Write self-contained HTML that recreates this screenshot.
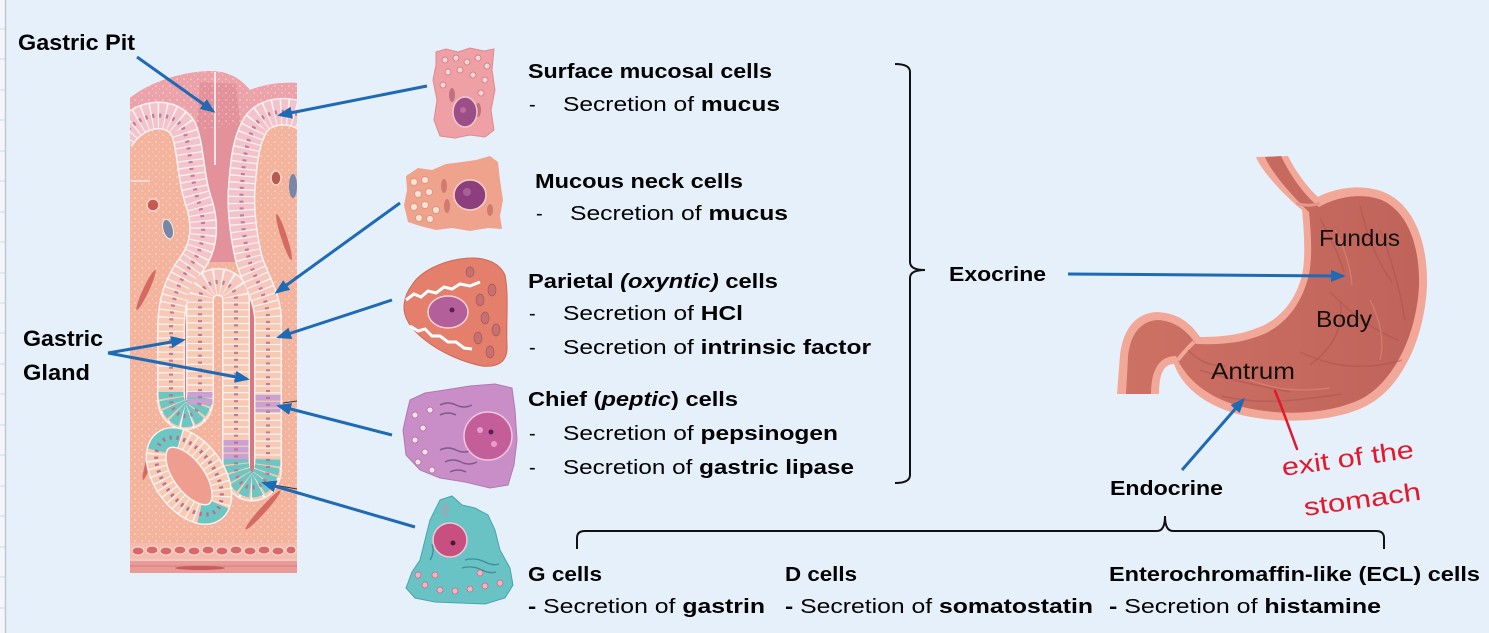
<!DOCTYPE html>
<html><head><meta charset="utf-8"><style>
html,body{margin:0;padding:0;background:#e6f0fa;}
svg{display:block;}
text{font-family:"Liberation Sans",sans-serif;}
</style></head><body>
<svg width="1489" height="633" viewBox="0 0 1489 633" xmlns="http://www.w3.org/2000/svg">
<defs>
<marker id="ah" markerWidth="15" markerHeight="12" refX="12" refY="6" orient="auto" markerUnits="userSpaceOnUse"><path d="M0,0 L15,6 L0,12 Z" fill="#1e6ab4"/></marker>
<linearGradient id="cg" gradientUnits="userSpaceOnUse" x1="0" y1="230" x2="0" y2="320"><stop offset="0" stop-color="#f3c3cc"/><stop offset="1" stop-color="#f6cab3"/></linearGradient>
<linearGradient id="sg" x1="0" y1="0" x2="1" y2="0"><stop offset="0" stop-color="#cd7165"/><stop offset="1" stop-color="#c0635a"/></linearGradient>
<pattern id="dots" width="7" height="7" patternUnits="userSpaceOnUse"><circle cx="2" cy="2" r="0.8" fill="#fff" opacity="0.55"/><circle cx="5.5" cy="5" r="0.6" fill="#fff" opacity="0.4"/></pattern>
<clipPath id="gclip"><path d="M130,98 C150,82 180,72 210,71 C228,71 240,78 250,90 C265,84 282,82 297,83 L297,575 L130,575 Z"/></clipPath>
</defs>
<rect width="1489" height="633" fill="#e6f0fa"/>
<!-- left strip -->
<rect x="0" y="0" width="5" height="633" fill="#f3f7fc"/>
<g stroke="#c4dcf0" stroke-width="1">
<line x1="0" y1="29" x2="5" y2="29"/><line x1="0" y1="59" x2="5" y2="59"/><line x1="0" y1="90" x2="5" y2="90"/><line x1="0" y1="120" x2="5" y2="120"/><line x1="0" y1="151" x2="5" y2="151"/><line x1="0" y1="181" x2="5" y2="181"/><line x1="0" y1="212" x2="5" y2="212"/><line x1="0" y1="242" x2="5" y2="242"/><line x1="0" y1="273" x2="5" y2="273"/><line x1="0" y1="303" x2="5" y2="303"/><line x1="0" y1="333" x2="5" y2="333"/><line x1="0" y1="364" x2="5" y2="364"/><line x1="0" y1="394" x2="5" y2="394"/><line x1="0" y1="425" x2="5" y2="425"/><line x1="0" y1="455" x2="5" y2="455"/><line x1="0" y1="486" x2="5" y2="486"/><line x1="0" y1="516" x2="5" y2="516"/><line x1="0" y1="547" x2="5" y2="547"/><line x1="0" y1="577" x2="5" y2="577"/><line x1="0" y1="608" x2="5" y2="608"/>
</g>
<line x1="5.5" y1="0" x2="5.5" y2="633" stroke="#c3c7cc" stroke-width="1.5"/>

<!-- ===== Gastric gland illustration ===== -->
<g clip-path="url(#gclip)">
<rect x="120" y="60" width="190" height="520" fill="#f3b39c"/>
<rect x="120" y="60" width="190" height="520" fill="url(#dots)"/>
<!-- surface pink -->
<path d="M120,60 L310,60 L310,122 L255,128 L246,160 L243,200 L245,255 L195,262 L196,200 L188,150 L180,128 L120,134 Z" fill="#eba2a9"/>
<path d="M200,82 L236,84 L243,150 L240,262 L198,262 L200,200 L196,140 Z" fill="#e3919a"/>
<path d="M120,60 L310,60 L310,122 L120,134 Z" fill="url(#dots)"/>
<line x1="215" y1="72" x2="215" y2="165" stroke="#ffffff" stroke-width="1.5"/>
<line x1="131" y1="181" x2="150" y2="181" stroke="#ffffff" stroke-width="1.2" opacity="0.8"/>
<!-- vessels -->
<circle cx="153" cy="205" r="6" fill="#c65a50" stroke="#f3d4cc" stroke-width="1.5"/>
<ellipse cx="168" cy="229" rx="5" ry="10" fill="#7a86a6" stroke="#eed" stroke-width="1" transform="rotate(-15 168 229)"/>
<ellipse cx="276" cy="178" rx="5" ry="7" fill="#b85a50" stroke="#f3d4cc" stroke-width="1.5"/>
<ellipse cx="293" cy="186" rx="4" ry="12" fill="#7a86a6"/>
<ellipse cx="146" cy="290" rx="3" ry="22" fill="#d46a62" transform="rotate(25 146 290)"/>
<ellipse cx="284" cy="237" rx="3" ry="24" fill="#d46a62" transform="rotate(-18 284 237)"/>
<ellipse cx="151" cy="455" rx="3" ry="26" fill="#d46a62" transform="rotate(18 151 455)"/>
<ellipse cx="263" cy="510" rx="3" ry="26" fill="#d46a62" transform="rotate(42 263 510)"/>
<!-- lumens -->
<line x1="186" y1="295" x2="186" y2="410" stroke="#d6787e" stroke-width="7"/>
<line x1="252" y1="295" x2="252" y2="480" stroke="#d6787e" stroke-width="7"/>
<!-- epithelium band -->
<path d="M120,140 C136,112 170,108 183,128 C191,146 190,175 198,200 C206,222 205,245 193,262 C178,282 171,300 171,330 L171,398 C171,422 200,422 200,398 L200,300 C200,276 236,276 236,300 L236,468 C236,494 268,494 268,468 L268,320 C268,295 252,275 248,255 C243,232 240,205 242,185 C244,160 246,140 256,124 C266,110 290,108 305,118" fill="none" stroke="#fbf0f0" stroke-width="28"/>
<path d="M120,140 C136,112 170,108 183,128 C191,146 190,175 198,200 C206,222 205,245 193,262 C178,282 171,300 171,330 L171,398 C171,422 200,422 200,398 L200,300 C200,276 236,276 236,300 L236,468 C236,494 268,494 268,468 L268,320 C268,295 252,275 248,255 C243,232 240,205 242,185 C244,160 246,140 256,124 C266,110 290,108 305,118" fill="none" stroke="url(#cg)" stroke-width="25" stroke-dasharray="5.6 1.3"/>
<path d="M171,392 C171,422 200,422 200,392" fill="none" stroke="#6cc6c2" stroke-width="25" stroke-dasharray="5.6 1.3"/>
<path d="M236,458 C236,494 268,494 268,458" fill="none" stroke="#6cc6c2" stroke-width="25" stroke-dasharray="5.6 1.3"/>
<path d="M236,440 L236,460" fill="none" stroke="#c8a2d2" stroke-width="25" stroke-dasharray="5.6 1.3"/>
<path d="M268,395 L268,412" fill="none" stroke="#c8a2d2" stroke-width="25" stroke-dasharray="5.6 1.3"/>
<path d="M200,392 L200,405" fill="none" stroke="#c8a2d2" stroke-width="25" stroke-dasharray="5.6 1.3"/>
<path d="M120,140 C136,112 170,108 183,128 C191,146 190,175 198,200 C206,222 205,245 193,262 C178,282 171,300 171,330 L171,398 C171,422 200,422 200,398 L200,300 C200,276 236,276 236,300 L236,468 C236,494 268,494 268,468 L268,320 C268,295 252,275 248,255 C243,232 240,205 242,185 C244,160 246,140 256,124 C266,110 290,108 305,118" fill="none" stroke="#b8708e" stroke-width="4" stroke-dasharray="2.2 4.7" opacity="0.85"/>
<!-- oval cross-section gland -->
<g transform="rotate(54 189 476)">
<ellipse cx="189" cy="476" rx="44" ry="25" fill="#ef9d8e" stroke="#fbf0f0" stroke-width="21"/>
<ellipse cx="189" cy="476" rx="44" ry="25" fill="none" stroke="#f6cab3" stroke-width="18" stroke-dasharray="5.5 1.3"/>
<ellipse cx="189" cy="476" rx="44" ry="25" fill="none" stroke="#6cc6c2" stroke-width="18" stroke-dasharray="16 82 30 84 20"/>
<ellipse cx="189" cy="476" rx="44" ry="25" fill="none" stroke="#b8708e" stroke-width="4" stroke-dasharray="2.2 4.7"/>
</g>
<!-- muscle layers -->
<rect x="120" y="543" width="190" height="16" fill="#f4bcae"/>
<g fill="#d9686a" stroke="#fbe0d8" stroke-width="1">
<ellipse cx="138" cy="551" rx="6" ry="4"/><ellipse cx="152" cy="550" rx="6" ry="4"/><ellipse cx="166" cy="551" rx="6" ry="4"/><ellipse cx="180" cy="550" rx="6" ry="4"/><ellipse cx="194" cy="551" rx="6" ry="4"/><ellipse cx="208" cy="550" rx="6" ry="4"/><ellipse cx="222" cy="551" rx="6" ry="4"/><ellipse cx="236" cy="550" rx="6" ry="4"/><ellipse cx="250" cy="551" rx="6" ry="4"/><ellipse cx="264" cy="550" rx="6" ry="4"/><ellipse cx="278" cy="551" rx="6" ry="4"/><ellipse cx="291" cy="550" rx="5" ry="4"/>
</g>
<rect x="120" y="559" width="190" height="14" fill="#e99c97"/>
<rect x="120" y="573" width="190" height="10" fill="#e6f0fa"/>
<line x1="120" y1="560" x2="310" y2="560" stroke="#f6d6d0" stroke-width="1.5"/>
<line x1="120" y1="566" x2="310" y2="566" stroke="#d77c7c" stroke-width="1"/>
<ellipse cx="200" cy="568" rx="25" ry="2" fill="#c85c60"/>
</g>
<!-- small black leader marks -->
<line x1="283" y1="288" x2="297" y2="276" stroke="#333" stroke-width="1"/>
<line x1="283" y1="403" x2="297" y2="401" stroke="#333" stroke-width="1"/>
<line x1="268" y1="484" x2="297" y2="489" stroke="#333" stroke-width="1"/>

<!-- ===== individual cells ===== -->
<!-- surface mucosal -->
<path d="M436,52 L446,49 L458,52 L470,48 L484,51 L494,49 L492,70 L495,90 L491,110 L494,130 L485,137 L470,135 L455,138 L440,136 L434,120 L437,100 L433,80 L436,65 Z" fill="#eea0a4" stroke="#e08a90" stroke-width="1"/>
<g fill="#f8d2d4" stroke="#c87880" stroke-width="0.8">
<circle cx="445" cy="60" r="3"/><circle cx="456" cy="58" r="3"/><circle cx="467" cy="62" r="3"/><circle cx="478" cy="58" r="3"/><circle cx="487" cy="66" r="3"/><circle cx="448" cy="72" r="3"/><circle cx="460" cy="70" r="3"/><circle cx="473" cy="75" r="3"/><circle cx="485" cy="80" r="3"/><circle cx="443" cy="85" r="3"/><circle cx="481" cy="93" r="3"/>
</g>
<ellipse cx="452" cy="95" rx="3" ry="7" fill="#c07080"/>
<ellipse cx="478" cy="110" rx="3" ry="7" fill="#c07080"/>
<ellipse cx="465" cy="112" rx="12" ry="15" fill="#9b4e88" stroke="#f3c8d0" stroke-width="1.5"/>
<circle cx="463" cy="110" r="3" fill="#b870a0"/>
<!-- mucous neck -->
<path d="M406,176 L418,168 L432,170 L446,164 L462,162 L476,160 L490,156 L498,162 L500,180 L503,200 L500,216 L502,229 L488,228 L470,231 L452,228 L436,230 L420,226 L408,222 L404,205 L407,190 Z" fill="#f0a38c"/>
<g fill="#fbe2d2" stroke="#d49080" stroke-width="0.8">
<circle cx="414" cy="182" r="3.5"/><circle cx="425" cy="180" r="3.5"/><circle cx="418" cy="194" r="3.5"/><circle cx="429" cy="192" r="3.5"/><circle cx="414" cy="207" r="3.5"/><circle cx="425" cy="205" r="3.5"/><circle cx="436" cy="210" r="3.5"/><circle cx="430" cy="219" r="3.5"/><circle cx="419" cy="218" r="3.5"/>
</g>
<ellipse cx="444" cy="186" rx="3" ry="7" fill="#d07a70"/>
<ellipse cx="447" cy="206" rx="3" ry="7" fill="#d07a70"/>
<ellipse cx="490" cy="210" rx="3" ry="6" fill="#d07a70"/>
<ellipse cx="470" cy="195" rx="16" ry="15" fill="#8d3e7c" stroke="#f6d0c8" stroke-width="1.5"/>
<circle cx="467" cy="192" r="4" fill="#a8609a"/>
<!-- parietal -->
<path d="M412,285 C420,272 440,262 460,259 C480,256 498,260 505,275 C509,295 506,320 507,345 C508,360 500,368 482,366 C462,362 440,352 425,340 C412,330 403,318 404,305 C405,296 408,290 412,285 Z" fill="#e47f6c" stroke="#d06858" stroke-width="1"/>
<polyline points="406,300 414,294 421,297 428,291 436,293 444,287 452,289 460,284 470,286 480,282" fill="none" stroke="#ffffff" stroke-width="3"/>
<polyline points="410,326 418,331 425,329 432,336 440,336 448,342 456,342 464,348 472,349" fill="none" stroke="#ffffff" stroke-width="3"/>
<g fill="#c87070" stroke="#a05858" stroke-width="0.7">
<ellipse cx="480" cy="300" rx="4" ry="6"/><ellipse cx="492" cy="290" rx="4" ry="6"/><ellipse cx="485" cy="318" rx="4" ry="6"/><ellipse cx="496" cy="330" rx="4" ry="6"/><ellipse cx="478" cy="338" rx="4" ry="6"/><ellipse cx="490" cy="352" rx="4" ry="6"/><ellipse cx="470" cy="272" rx="4" ry="5"/>
</g>
<ellipse cx="448" cy="312" rx="20" ry="16" fill="#b3609a" stroke="#f5d2d8" stroke-width="1.5"/>
<circle cx="452" cy="310" r="2.5" fill="#5a2050"/>
<!-- chief -->
<path d="M410,400 L425,393 L445,390 L470,386 L495,384 L512,388 L515,410 L517,440 L514,465 L508,485 L490,488 L465,482 L440,478 L420,470 L406,455 L403,430 L407,412 Z" fill="#c98ec8" stroke="#b07ab0" stroke-width="1"/>
<g fill="#f6e0e8" stroke="#a87098" stroke-width="0.7">
<circle cx="415" cy="415" r="3"/><circle cx="423" cy="428" r="3"/><circle cx="415" cy="440" r="3"/><circle cx="425" cy="452" r="3"/><circle cx="418" cy="462" r="3"/><circle cx="432" cy="470" r="3"/><circle cx="430" cy="410" r="3"/>
</g>
<g fill="none" stroke="#7e5a88" stroke-width="1.5">
<path d="M440,405 q8,-4 16,0 q8,4 16,0"/><path d="M440,415 q8,-4 16,0"/><path d="M440,450 q8,-4 16,0 q8,4 16,0"/><path d="M445,462 q8,-4 16,0 q8,4 16,0"/><path d="M450,472 q8,-4 16,0"/>
</g>
<circle cx="488" cy="436" r="24" fill="#c45e9a" stroke="#f0c8de" stroke-width="1.5"/>
<circle cx="480" cy="430" r="3" fill="#e6a0c8"/><circle cx="494" cy="444" r="3" fill="#e6a0c8"/><circle cx="491" cy="432" r="2.5" fill="#5a2050"/>
<!-- G cell -->
<path d="M440,500 L452,496 L462,505 L475,508 L488,515 L495,530 L500,550 L510,568 L513,585 L505,598 L485,604 L460,603 L435,602 L415,598 L406,588 L412,572 L420,560 L425,540 L430,520 Z" fill="#69c2c4" stroke="#4aa6aa" stroke-width="1"/>
<g fill="none" stroke="#3f8f98" stroke-width="1.3">
<path d="M465,560 q10,-3 20,2 q8,4 14,2"/><path d="M462,568 q10,-3 20,2 q8,4 14,2"/><path d="M430,560 q5,-8 2,-16"/>
</g>
<ellipse cx="445" cy="510" rx="4" ry="7" fill="#8ab0b8"/>
<circle cx="450" cy="540" r="17" fill="#c85080" stroke="#f0c8d8" stroke-width="1.5"/>
<circle cx="453" cy="543" r="2.5" fill="#4a1838"/>
<g fill="#f2b4c4" stroke="#c07080" stroke-width="0.8">
<circle cx="425" cy="585" r="3"/><circle cx="440" cy="590" r="3"/><circle cx="455" cy="591" r="3"/><circle cx="470" cy="589" r="3"/><circle cx="485" cy="586" r="3"/><circle cx="500" cy="583" r="3"/><circle cx="435" cy="575" r="3"/><circle cx="480" cy="573" r="3"/><circle cx="418" cy="575" r="3"/>
</g>

<!-- ===== stomach ===== -->
<path d="M1256,157 C1262,172 1285,196 1302,210 C1305,240 1305,262 1302,275 C1296,300 1280,320 1257,328 C1240,335 1220,337 1200,337 C1192,325 1180,313 1157,312 C1135,313 1123,330 1120,355 L1117,394 L1159,394 C1159,378 1162,364 1174,364 C1184,392 1215,412 1257,418 C1295,424 1340,420 1368,405 C1403,386 1425,336 1427,285 C1428,236 1410,201 1381,191 C1356,183 1331,190 1318,197 C1306,186 1295,170 1288,156 Z" fill="#f2a898"/>
<path d="M1265,157 C1271,172 1292,196 1309,212 C1312,240 1312,264 1308,278 C1301,305 1284,327 1259,336 C1240,343 1220,345 1196,344 C1188,332 1176,321 1158,320 C1140,321 1130,335 1128,357 L1126,394 L1151,394 C1151,372 1158,356 1176,356 C1188,385 1218,404 1258,410 C1295,416 1336,412 1363,398 C1395,380 1417,333 1419,285 C1420,240 1404,208 1379,199 C1356,192 1333,199 1319,207 C1304,195 1290,175 1281,156 Z" fill="url(#sg)"/>
<path d="M1194,342 C1188,348 1182,354 1178,360" fill="none" stroke="#f2a898" stroke-width="4"/>
<path d="M1296,203 C1305,206 1312,206 1320,203" fill="none" stroke="#e8968a" stroke-width="3"/>
<g fill="none" stroke="#a9504a" stroke-width="1.5" opacity="0.45">
<path d="M1320,218 C1330,238 1338,252 1344,272"/><path d="M1360,205 C1366,232 1376,260 1392,282"/><path d="M1330,292 C1350,312 1372,330 1398,340"/><path d="M1200,370 C1230,380 1260,386 1290,392"/><path d="M1222,396 C1262,406 1300,400 1342,394"/><path d="M1300,352 C1330,366 1362,372 1402,360"/><path d="M1188,350 C1200,362 1210,366 1226,366"/><path d="M1380,230 C1392,260 1400,290 1405,320"/><path d="M1340,300 C1345,330 1330,350 1310,365"/>
</g>
<g fill="none" stroke="#df8a7c" stroke-width="1.3" opacity="0.6">
<path d="M1335,230 C1345,250 1350,265 1352,285"/><path d="M1250,380 C1275,390 1300,392 1330,388"/><path d="M1370,300 C1380,320 1385,340 1380,360"/>
</g>
<text x="1319" y="246" font-size="23" fill="#111" textLength="81" lengthAdjust="spacingAndGlyphs">Fundus</text>
<text x="1316" y="327" font-size="23" fill="#111" textLength="56" lengthAdjust="spacingAndGlyphs">Body</text>
<text x="1211" y="379" font-size="23" fill="#111" textLength="84" lengthAdjust="spacingAndGlyphs">Antrum</text>

<!-- red handwriting -->
<path d="M1275,391 C1283,410 1290,430 1297,449" fill="none" stroke="#e3182d" stroke-width="2.5" stroke-linecap="round"/>
<text x="1283" y="476" font-size="25" fill="#e3182d" textLength="133" lengthAdjust="spacingAndGlyphs" transform="rotate(-8 1283 476)">exit of the</text>
<text x="1305" y="516" font-size="25" fill="#e3182d" textLength="118" lengthAdjust="spacingAndGlyphs" transform="rotate(-8 1305 516)">stomach</text>

<!-- ===== arrows ===== -->
<g stroke="#1e6ab4" stroke-width="3" fill="none" marker-end="url(#ah)">
<line x1="137" y1="57" x2="213" y2="111"/>
<line x1="427" y1="86" x2="280" y2="115"/>
<line x1="400" y1="203" x2="277" y2="292"/>
<line x1="392" y1="300" x2="279" y2="337"/>
<line x1="392" y1="435" x2="279" y2="406"/>
<line x1="415" y1="527" x2="264" y2="483"/>
<line x1="108" y1="353" x2="183" y2="340"/>
<line x1="108" y1="353" x2="247" y2="379"/>
<line x1="1068" y1="274" x2="1343" y2="276"/>
<line x1="1182" y1="470" x2="1243" y2="400"/>
</g>

<!-- ===== brackets ===== -->
<path d="M895,64 Q910,64 910,72 L910,262 Q910,270 925,270 Q910,270 910,278 L910,475 Q910,483 895,483" fill="none" stroke="#111" stroke-width="2"/>
<path d="M577,549 L577,538 Q577,531 585,531 L1157,531 Q1165,531 1165,516 Q1165,531 1173,531 L1376,531 Q1384,531 1384,538 L1384,549" fill="none" stroke="#111" stroke-width="2"/>

<!-- ===== text ===== -->
<g fill="#000" font-size="20">
<text x="18" y="50" font-size="22" font-weight="bold" textLength="117" lengthAdjust="spacingAndGlyphs">Gastric Pit</text>
<text x="23" y="346" font-size="22" font-weight="bold" textLength="80" lengthAdjust="spacingAndGlyphs">Gastric</text>
<text x="23" y="380" font-size="22" font-weight="bold" textLength="67" lengthAdjust="spacingAndGlyphs">Gland</text>

<text x="528" y="78" font-weight="bold" textLength="244" lengthAdjust="spacingAndGlyphs">Surface mucosal cells</text>
<text x="529" y="111">-</text>
<text x="563" y="111" textLength="217" lengthAdjust="spacingAndGlyphs">Secretion of <tspan font-weight="bold">mucus</tspan></text>

<text x="535" y="188" font-weight="bold" textLength="208" lengthAdjust="spacingAndGlyphs">Mucous neck cells</text>
<text x="536" y="220">-</text>
<text x="570" y="220" textLength="218" lengthAdjust="spacingAndGlyphs">Secretion of <tspan font-weight="bold">mucus</tspan></text>

<text x="528" y="288" font-weight="bold" textLength="250" lengthAdjust="spacingAndGlyphs">Parietal <tspan font-style="italic">(oxyntic)</tspan> cells</text>
<text x="529" y="320">-</text>
<text x="563" y="320" textLength="180" lengthAdjust="spacingAndGlyphs">Secretion of <tspan font-weight="bold">HCl</tspan></text>
<text x="529" y="354">-</text>
<text x="563" y="354" textLength="308" lengthAdjust="spacingAndGlyphs">Secretion of <tspan font-weight="bold">intrinsic factor</tspan></text>

<text x="528" y="406" font-weight="bold" textLength="210" lengthAdjust="spacingAndGlyphs">Chief (<tspan font-style="italic">peptic</tspan>) cells</text>
<text x="529" y="440">-</text>
<text x="563" y="440" textLength="275" lengthAdjust="spacingAndGlyphs">Secretion of <tspan font-weight="bold">pepsinogen</tspan></text>
<text x="529" y="474">-</text>
<text x="563" y="474" textLength="291" lengthAdjust="spacingAndGlyphs">Secretion of <tspan font-weight="bold">gastric lipase</tspan></text>

<text x="949" y="281" font-weight="bold" textLength="97" lengthAdjust="spacingAndGlyphs">Exocrine</text>
<text x="1110" y="495" font-weight="bold" textLength="113" lengthAdjust="spacingAndGlyphs">Endocrine</text>

<text x="528" y="581" font-weight="bold" textLength="74" lengthAdjust="spacingAndGlyphs">G cells</text>
<text x="528" y="613" textLength="237" lengthAdjust="spacingAndGlyphs"><tspan font-weight="bold">-</tspan> Secretion of <tspan font-weight="bold">gastrin</tspan></text>
<text x="785" y="581" font-weight="bold" textLength="72" lengthAdjust="spacingAndGlyphs">D cells</text>
<text x="785" y="613" textLength="308" lengthAdjust="spacingAndGlyphs"><tspan font-weight="bold">-</tspan> Secretion of <tspan font-weight="bold">somatostatin</tspan></text>
<text x="1109" y="581" font-weight="bold" textLength="371" lengthAdjust="spacingAndGlyphs">Enterochromaffin-like (ECL) cells</text>
<text x="1109" y="613" textLength="272" lengthAdjust="spacingAndGlyphs"><tspan font-weight="bold">-</tspan> Secretion of <tspan font-weight="bold">histamine</tspan></text>
</g>
</svg>
</body></html>
